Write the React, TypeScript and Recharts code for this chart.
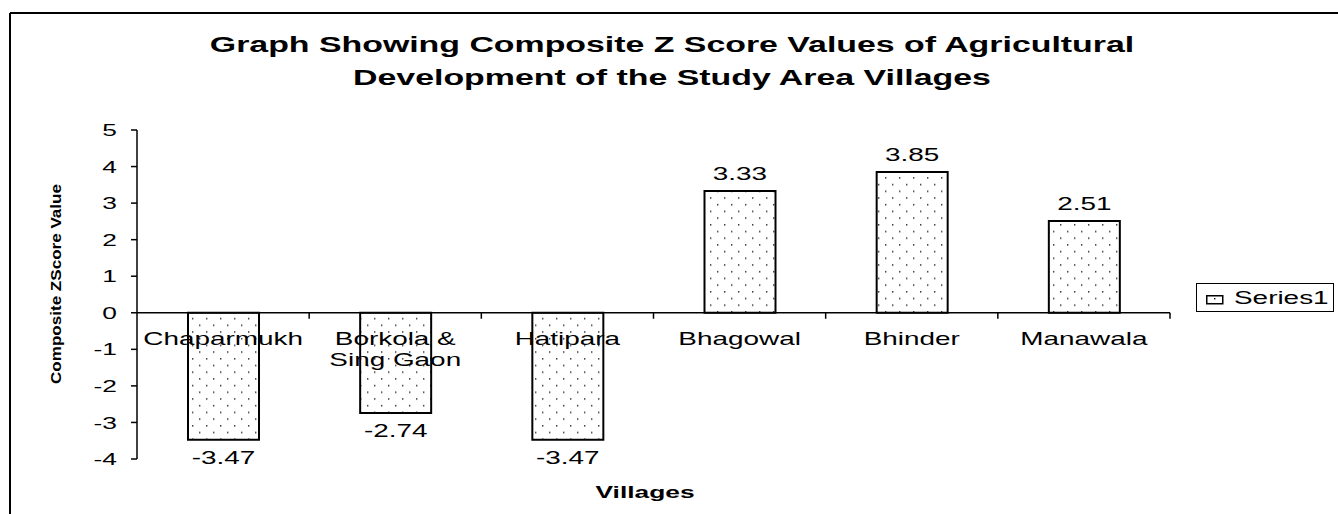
import React from 'react';
import { BarChart, Bar, XAxis, YAxis, ReferenceLine, ReferenceDot, LabelList, Legend } from 'recharts';

// ---- data ----
const villages = ['Chaparmukh', 'Borkola & Sing Gaon', 'Hatipara', 'Bhagowal', 'Bhinder', 'Manawala'];
const villageLabelLines = [['Chaparmukh'], ['Borkola &', 'Sing Gaon'], ['Hatipara'], ['Bhagowal'], ['Bhinder'], ['Manawala']];
const zScores = [-3.47, -2.74, -3.47, 3.33, 3.85, 2.51];
const yTicks = [-4, -3, -2, -1, 0, 1, 2, 3, 4, 5];
const seriesName = 'Series1';
const titleLines = ['Graph Showing Composite Z Score Values of Agricultural', 'Development of the Study Area Villages'];
const xAxisTitle = 'Villages';
const yAxisTitle = 'Composite ZScore Value';

const data = villages.map((name, i) => ({ name, z: zScores[i] }));

// ---- layout ----
const W = 1338;
const H = 514;
const MARGIN = { top: 130, right: 168, bottom: 55, left: 0 };
const YAXIS_W = 137;
const BAND = (W - MARGIN.left - MARGIN.right - YAXIS_W) / villages.length;
const SX = 1.55;
const FONT = 'Arial, "Liberation Sans", sans-serif';

const YTick = (props: any) => {
  const { x, y, payload } = props;
  return (
    <text
      transform={`translate(${x},${y}) scale(${SX},1)`}
      textAnchor="end"
      dy="0.36em"
      fontSize={17}
      fontFamily={FONT}
      fill="#000"
    >
      {payload.value}
    </text>
  );
};

const makeCatShape = (lines: string[]) => (props: any) => {
  const { cx, cy } = props;
  return (
    <g>
      {lines.map((l, i) => (
        <text
          key={i}
          transform={`translate(${cx},${cy + 32 + i * 21}) scale(${SX},1)`}
          textAnchor="middle"
          fontSize={18}
          fontFamily={FONT}
          fill="#000"
        >
          {l}
        </text>
      ))}
      <line x1={cx + BAND / 2} x2={cx + BAND / 2} y1={cy} y2={cy + 6} stroke="#000" strokeWidth={1.5} />
    </g>
  );
};

const ValueLabel = (props: any) => {
  const { x, y, width, height, value } = props;
  const nx = Number(x), ny = Number(y), nw = Number(width), nh = Number(height);
  const top = Math.min(ny, ny + nh);
  const bottom = Math.max(ny, ny + nh);
  const cx = nx + nw / 2;
  const by = value >= 0 ? top - 11 : bottom + 24;
  return (
    <text
      transform={`translate(${cx},${by}) scale(${SX},1)`}
      textAnchor="middle"
      fontSize={18}
      fontFamily={FONT}
      fill="#000"
    >
      {Number(value).toFixed(2)}
    </text>
  );
};

const LegendBox = () => (
  <div
    style={{
      width: 138,
      height: 29,
      border: '1.5px solid #000',
      boxSizing: 'border-box',
      position: 'relative',
      background: '#fff',
    }}
  >
    <svg style={{ position: 'absolute', left: 9, top: 11 }} width={18} height={10}>
      <rect x={0.75} y={0.75} width={16} height={8} fill="#fff" stroke="#000" strokeWidth={1.5} />
      <rect x={8} y={3} width={1.4} height={1.4} fill="#000" />
    </svg>
    <span
      style={{
        position: 'absolute',
        left: 37,
        top: 5,
        fontSize: 18,
        lineHeight: '18px',
        fontFamily: FONT,
        whiteSpace: 'nowrap',
        transform: `scaleX(${SX})`,
        transformOrigin: 'left center',
        color: '#000',
      }}
    >
      {seriesName}
    </span>
  </div>
);

export default function App() {
  return (
    <div style={{ position: 'absolute', left: 0, top: 0, width: W, height: H, background: '#fff', overflow: 'hidden' }}>
      <div style={{ position: 'absolute', left: 0, top: 0 }}>
        <BarChart width={W} height={H} data={data} margin={MARGIN}>
          <defs>
            <pattern id="dots" width={14} height={13.4} patternUnits="userSpaceOnUse">
              <rect x={0} y={0} width={14} height={13.4} fill="#fff" />
              <rect x={3} y={3} width={1.4} height={1.4} fill="#222" />
              <rect x={10} y={9.7} width={1.4} height={1.4} fill="#222" />
            </pattern>
          </defs>
          <XAxis dataKey="name" hide />
          <YAxis
            width={YAXIS_W}
            domain={[-4, 5]}
            ticks={yTicks}
            interval={0}
            tickSize={6}
            tickMargin={14}
            axisLine={{ stroke: '#000', strokeWidth: 1.5 }}
            tickLine={{ stroke: '#000', strokeWidth: 1.5 }}
            tick={<YTick />}
          />
          <Legend
            layout="horizontal"
            verticalAlign="middle"
            align="center"
            content={<LegendBox />}
            wrapperStyle={{ left: 1196, top: 283, right: 'auto', bottom: 'auto', width: 'auto' }}
          />
          <Bar
            dataKey="z"
            name={seriesName}
            fill="url(#dots)"
            stroke="#000"
            strokeWidth={2}
            barSize={71}
            isAnimationActive={false}
          >
            <LabelList dataKey="z" content={<ValueLabel />} />
          </Bar>
          <ReferenceLine y={0} stroke="#000" strokeWidth={1.5} />
          {villages.map((v, i) => (
            <ReferenceDot key={v} x={v} y={0} r={0} shape={makeCatShape(villageLabelLines[i])} />
          ))}
        </BarChart>
      </div>
      <svg
        width={W}
        height={H}
        style={{ position: 'absolute', left: 0, top: 0, pointerEvents: 'none' }}
      >
        <line x1={10} y1={13} x2={10} y2={H} stroke="#000" strokeWidth={2} />
        <line x1={10} y1={13} x2={W} y2={13} stroke="#000" strokeWidth={2} />
        {titleLines.map((t, i) => (
          <text
            key={t}
            transform={`translate(672,${52 + i * 33}) scale(1.54,1)`}
            textAnchor="middle"
            fontSize={22}
            fontWeight="bold"
            fontFamily={FONT}
            fill="#000"
          >
            {t}
          </text>
        ))}
        <text
          transform={`translate(645,498) scale(${SX},1)`}
          textAnchor="middle"
          fontSize={17}
          fontWeight="bold"
          fontFamily={FONT}
          fill="#000"
        >
          {xAxisTitle}
        </text>
        <text
          transform="translate(61,284) rotate(-90)"
          textAnchor="middle"
          fontSize={15}
          fontWeight="bold"
          fontFamily={FONT}
          textLength={200}
          lengthAdjust="spacingAndGlyphs"
          fill="#000"
        >
          {yAxisTitle}
        </text>
      </svg>
    </div>
  );
}
